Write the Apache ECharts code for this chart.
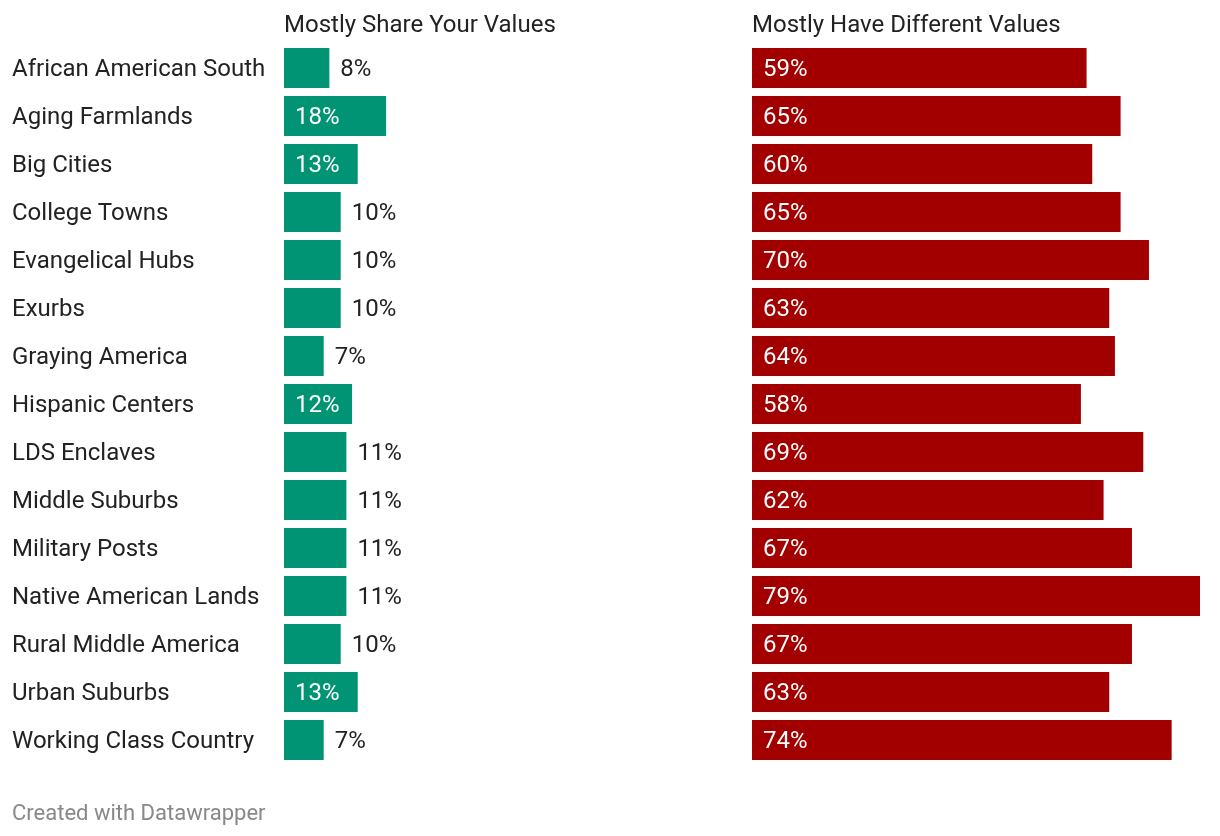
<!DOCTYPE html>
<html>
<head>
<meta charset="utf-8">
<script src="https://cdn.jsdelivr.net/npm/echarts@6/dist/echarts.min.js"></script>
<style>html,body{margin:0;padding:0;background:#fff;}#c{width:1220px;height:836px;}</style>
</head>
<body>
<div id="c"></div>
<script>
const categories = ["African American South","Aging Farmlands","Big Cities","College Towns","Evangelical Hubs","Exurbs","Graying America","Hispanic Centers","LDS Enclaves","Middle Suburbs","Military Posts","Native American Lands","Rural Middle America","Urban Suburbs","Working Class Country"];
const shareValues = [8,18,13,10,10,10,7,12,11,11,11,11,10,13,7];
const differentValues = [59,65,60,65,70,63,64,58,69,62,67,79,67,63,74];
const panelTitles = ["Mostly Share Your Values","Mostly Have Different Values"];
const footer = "Created with Datawrapper";

const FONT = 'Roboto, "Noto Sans", sans-serif';
const GREEN = '#009474', RED = '#a20000', TEXT = '#222222';
const FS = 24;

function labelled(values){
  return values.map(v => {
    const inside = v >= 12;
    return {
      value: v,
      label: inside
        ? {position: 'insideLeft', color: '#ffffff', distance: 11}
        : {position: 'right', color: TEXT, distance: 11}
    };
  });
}

const chart = echarts.init(document.getElementById('c'), null, {renderer: 'canvas'});
const xAx = (gi) => ({gridIndex: gi, type: 'value', min: 0, max: 79, show: false});
const yAx = (gi, showLabels) => ({
  gridIndex: gi, type: 'category', data: categories, inverse: true,
  axisLine: {show: false}, axisTick: {show: false}, splitLine: {show: false},
  axisLabel: showLabels ? {
    show: true, align: 'left', margin: 272, color: TEXT, fontSize: FS, fontFamily: FONT,
    formatter: v => '{a|' + v + '}',
    rich: {a: {fontSize: FS, fontFamily: FONT, color: TEXT, padding: [4, 0, 0, 0]}}
  } : {show: false}
});
chart.setOption({
  animation: false,
  backgroundColor: '#ffffff',
  title: [
    {text: panelTitles[0], left: 279, top: 9, textStyle: {fontSize: FS, fontWeight: 'normal', color: TEXT, fontFamily: FONT}},
    {text: panelTitles[1], left: 747, top: 9, textStyle: {fontSize: FS, fontWeight: 'normal', color: TEXT, fontFamily: FONT}},
    {text: footer, left: 7, top: 798, textStyle: {fontSize: 22, fontWeight: 'normal', color: '#888888', fontFamily: FONT}}
  ],
  grid: [
    {left: 284, top: 44, width: 448, height: 720},
    {left: 752, top: 44, width: 448, height: 720}
  ],
  xAxis: [xAx(0), xAx(1)],
  yAxis: [yAx(0, true), yAx(1, false)],
  series: [
    {type: 'bar', xAxisIndex: 0, yAxisIndex: 0, data: labelled(shareValues), barWidth: 40,
     itemStyle: {color: GREEN},
     label: {show: true, formatter: p => p.value + '%', fontSize: FS, fontFamily: FONT, offset: [0, 2]}},
    {type: 'bar', xAxisIndex: 1, yAxisIndex: 1, data: differentValues, barWidth: 40,
     itemStyle: {color: RED},
     label: {show: true, position: 'insideLeft', distance: 11, color: '#ffffff', formatter: p => p.value + '%', fontSize: FS, fontFamily: FONT, offset: [0, 2]}}
  ]
});
</script>
</body>
</html>
